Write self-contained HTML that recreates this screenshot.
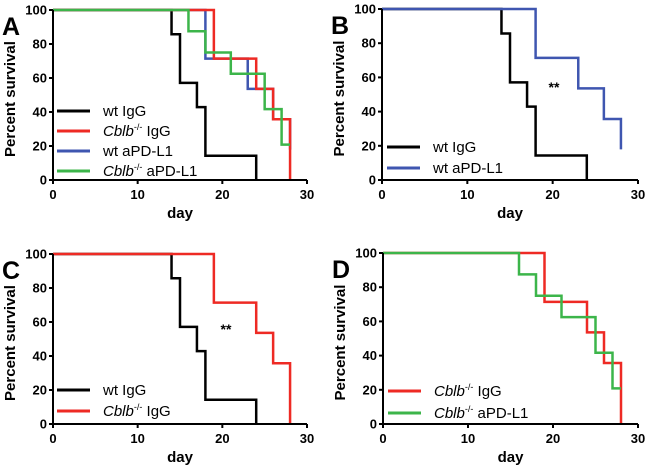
<!DOCTYPE html>
<html><head><meta charset="utf-8"><style>
body{margin:0;background:#fff}
svg{display:block;font-family:"Liberation Sans",sans-serif}
.tk{font-size:13px;font-weight:bold}
.tt{font-size:15px;font-weight:bold}
.lg{font-size:15px}
.pl{font-size:25px;font-weight:bold}
</style></head><body>
<svg id="c" width="650" height="468"></svg>
<script>
const xTicks=[0,10,20,30];
const yTicks=[0,20,40,60,80,100];
const wtIgG_t=[0,14,15,17,18,24];
const wtIgG_v=[100,85.7,57.1,42.9,14.3,0];
const wtIgG_end=24;
const cblbIgG_t=[0,19,24,26,28];
const cblbIgG_v=[100,71.4,53.6,35.7,0];
const cblbIgG_end=28;
const wtPD_t=[0,18,23,26,28];
const wtPD_v=[100,71.4,53.6,35.7,17.9];
const wtPD_end=28;
const cblbPD_t=[0,16,18,21,25,27];
const cblbPD_v=[100,87.5,75,62.5,41.7,20.8];
const cblbPD_end=28;
const series={
 wtIgG:{t:wtIgG_t,v:wtIgG_v,e:wtIgG_end,c:'#000'},
 cblbIgG:{t:cblbIgG_t,v:cblbIgG_v,e:cblbIgG_end,c:'#ee2a24'},
 wtPD:{t:wtPD_t,v:wtPD_v,e:wtPD_end,c:'#3f56b0'},
 cblbPD:{t:cblbPD_t,v:cblbPD_v,e:cblbPD_end,c:'#3cb54a'}
};
const NS='http://www.w3.org/2000/svg';
const svg=document.getElementById('c');
function mk(tag,attrs,parent,text){const e=document.createElementNS(NS,tag);for(const k in attrs)e.setAttribute(k,attrs[k]);if(text!==undefined)e.innerHTML=text;(parent||svg).appendChild(e);return e;}
const panels=[
 {id:'A',x0:53,x1:307,y0:180,y1:10,s:['wtIgG','cblbIgG','wtPD','cblbPD'],draw:['wtIgG','wtPD','cblbIgG','cblbPD'],lx:57,ly:[111,131,151,171],star:null},
 {id:'B',x0:382,x1:638,y0:180,y1:9,s:['wtIgG','wtPD'],draw:['wtIgG','wtPD'],lx:387,ly:[147,168],star:[554,92]},
 {id:'C',x0:53,x1:307,y0:424,y1:254,s:['wtIgG','cblbIgG'],draw:['wtIgG','cblbIgG'],lx:57,ly:[390,411],star:[226,334]},
 {id:'D',x0:383,x1:638,y0:424,y1:253,s:['cblbIgG','cblbPD'],draw:['cblbIgG','cblbPD'],lx:388,ly:[391,413],star:null}
];
const labels={wtIgG:'wt IgG',cblbIgG:'<tspan font-style="italic">Cblb</tspan><tspan font-size="9" dy="-6">-/-</tspan><tspan dy="6"> IgG</tspan>',wtPD:'wt aPD-L1',cblbPD:'<tspan font-style="italic">Cblb</tspan><tspan font-size="9" dy="-6">-/-</tspan><tspan dy="6"> aPD-L1</tspan>'};
panels.forEach(p=>{
 const g=mk('g',{});
 
 
 const X=t=>p.x0+(p.x1-p.x0)*t/30, Y=v=>p.y0+(p.y1-p.y0)*v/100;
 p.draw.forEach(k=>{
  const s=series[k];let d='M'+X(0)+','+Y(s.v[0]);
  for(let i=1;i<s.t.length;i++){d+=' H'+X(s.t[i])+' V'+Y(s.v[i]);}
  d+=' H'+X(s.e);
  const pa=mk('path',{d:d,fill:'none',stroke:s.c,'stroke-width':2.5},g);
  
  
 });
 const ax=mk('path',{d:`M${p.x0},${p.y1} V${p.y0} H${p.x1}`,fill:'none',stroke:'#000','stroke-width':2},g);
 
 
 yTicks.forEach(v=>{
  mk('line',{x1:p.x0-4,x2:p.x0,y1:Y(v),y2:Y(v),stroke:'#000','stroke-width':2},g);
  const t=mk('text',{x:p.x0-6,y:Y(v)+4.5,'text-anchor':'end',class:'tk'},g,v);
  
  
 });
 xTicks.forEach(v=>{
  mk('line',{x1:X(v),x2:X(v),y1:p.y0,y2:p.y0+4,stroke:'#000','stroke-width':2},g);
  const t=mk('text',{x:X(v),y:p.y0+19,'text-anchor':'middle',class:'tk'},g,v);
  
  
 });
 const xt=mk('text',{x:(p.x0+p.x1)/2,y:p.y0+38,'text-anchor':'middle',class:'tt'},g,'day');
 
 
 const yc=(p.y0+p.y1)/2+4;
 const yt=mk('text',{x:p.x0-38,y:yc,'text-anchor':'middle',class:'tt',transform:`rotate(-90 ${p.x0-38} ${yc})`},g,'Percent survival');
 
 
 const pl=mk('text',{x:p.x0-51,y:p.y1+25,class:'pl'},g,p.id);
 
 
 p.s.forEach((k,i)=>{
  const le=mk('g',{},g);
  
  
  mk('line',{x1:p.lx,x2:p.lx+33,y1:p.ly[i],y2:p.ly[i],stroke:series[k].c,'stroke-width':3},le);
  mk('text',{x:p.lx+46,y:p.ly[i]+5,class:'lg'},le,labels[k]);
 });
 if(p.star){const st=mk('text',{x:p.star[0],y:p.star[1],'text-anchor':'middle','font-size':'14px','font-weight':'bold'},g,'**');
  
  }
});
</script>
</body></html>
